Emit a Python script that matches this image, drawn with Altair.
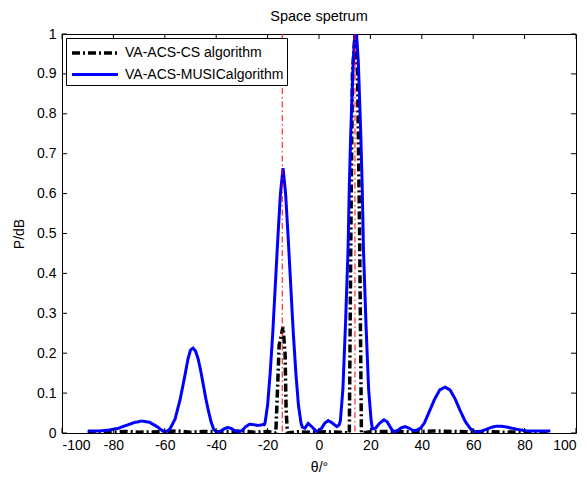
import altair as alt
import pandas as pd

# ---- data ----
music_theta = [-90, -86, -82, -78, -75, -72, -69, -66, -63, -61, -59.5, -58, -56, -54, -52, -51, -50, -49,
               -48, -47, -46, -45, -44, -43, -42, -41, -40, -38.5, -37, -35.5, -34, -32.5, -31, -30, -28.5,
               -27, -25.5, -24, -22.5, -21.5,
               -21.5, -21, -20, -19, -18, -17, -16, -15, -14, -13, -12, -11, -10, -9, -8, -7, -6.5,
               -5.5, -4.2, -2.5, -0.9, 1, 2.3, 3.6, 5, 6.9,
               7.8, 8.3, 9.3, 10.3, 11.3, 11.8, 12.3, 13.3, 14.3, 15.3, 16.3, 16.8, 17.3, 18.3, 19.3, 20.3, 20.8,
               22, 23.5, 25.3, 26.5, 28, 29, 30.5,
               32, 33.5, 35, 36.7, 38, 39.5, 41, 43, 45, 47, 49, 51, 53, 55, 57, 59, 61, 63, 65, 67, 69,
               71, 73, 75, 78, 81, 85, 90]
music_p = [0.005, 0.005, 0.007, 0.012, 0.019, 0.026, 0.030, 0.027, 0.016, 0.006, 0.003, 0.010, 0.035, 0.085,
           0.150, 0.185, 0.208, 0.213, 0.205, 0.185, 0.155, 0.120, 0.085, 0.055, 0.028, 0.010, 0.002, 0.004,
           0.010, 0.014, 0.011, 0.005, 0.003, 0.006, 0.016, 0.022, 0.021, 0.019, 0.020,
           0.022,
           0.018, 0.025, 0.070, 0.150, 0.250, 0.370, 0.490, 0.600, 0.664, 0.600, 0.490, 0.370, 0.250, 0.150,
           0.070, 0.025, 0.015,
           0.012, 0.024, 0.014, 0.003, 0.012, 0.025, 0.031, 0.026, 0.016,
           0.020, 0.030, 0.110, 0.270, 0.460, 0.620, 0.740, 0.930, 1.030, 0.930, 0.740, 0.620, 0.460, 0.270,
           0.110, 0.030, 0.010,
           0.012, 0.024, 0.033, 0.028, 0.012, 0.003, 0.006, 0.013, 0.016, 0.012, 0.006, 0.007, 0.012, 0.025,
           0.055, 0.085, 0.108, 0.115, 0.108, 0.085, 0.055, 0.028, 0.010, 0.002, 0.004, 0.009, 0.014, 0.017,
           0.017, 0.015, 0.012, 0.008, 0.005, 0.005, 0.005]

cs_theta = [-90, -80, -75, -70, -62, -55, -50, -45, -38, -30, -25, -20, -16.8, -16.2, -15.5, -14, -13.2,
            -12.8, -12.3, -8, -3, 3, 8, 11.8, 12.4, 13, 14, 15, 15.8, 16.5, 20, 28, 35, 45, 52, 58, 65, 72,
            80, 90]
cs_p = [0.0, 0.002, 0.004, 0.002, 0.003, 0.005, 0.002, 0.004, 0.003, 0.005, 0.002, 0.004, 0.0, 0.10, 0.22,
        0.266, 0.20, 0.06, 0.0, 0.003, 0.002, 0.003, 0.002, 0.0, 0.5, 0.9, 1.0, 0.9, 0.5, 0.0, 0.003, 0.004,
        0.003, 0.005, 0.004, 0.003, 0.004, 0.002, 0.003, 0.0]

doa = [-14.3, 14]
x_ticks = [-100, -80, -60, -40, -20, 0, 20, 40, 60, 80, 100]
y_ticks = [0, 0.1, 0.2, 0.3, 0.4, 0.5, 0.6, 0.7, 0.8, 0.9, 1]
series = ["VA-ACS-CS algorithm", "VA-ACS-MUSICalgorithm"]

W, H = 514, 399
FONT = "Liberation Sans"

df = pd.concat([
    pd.DataFrame({"theta": cs_theta, "p": cs_p, "s": series[0]}),
    pd.DataFrame({"theta": music_theta, "p": music_p, "s": series[1]}),
], ignore_index=True)

xs = alt.Scale(domain=[-100, 100], nice=False, zero=False)
ys = alt.Scale(domain=[0, 1], nice=False, zero=False)
x_axis = alt.Axis(values=x_ticks, title="θ/°", labelExpr="'' + datum.value", labelOverlap=False)
y_axis = alt.Axis(values=y_ticks, title="P/dB", labelExpr="'' + datum.value", labelOverlap=False)

legend_props = dict(
    title=None, orient="none", legendX=4, legendY=4,
    strokeColor="black", fillColor="white", padding=3,
    labelFont=FONT, labelFontSize=14, labelColor="black",
    symbolType="M-2.3,0H2.3", symbolSize=400, symbolStrokeWidth=2,
    symbolOffset=14, labelOffset=18, rowPadding=3, labelLimit=300,
)

lines = alt.Chart(df).mark_line(clip=True).encode(
    x=alt.X("theta:Q", scale=xs, axis=x_axis),
    y=alt.Y("p:Q", scale=ys, axis=y_axis),
    color=alt.Color("s:N", scale=alt.Scale(domain=series, range=["#000000", "#0000ff"]),
                    legend=alt.Legend(**legend_props)),
    strokeDash=alt.StrokeDash("s:N", scale=alt.Scale(domain=series, range=[[8, 3, 2, 3], [1, 0]]),
                              legend=alt.Legend(**legend_props)),
    strokeWidth=alt.StrokeWidth("s:N", scale=alt.Scale(domain=series, range=[3.5, 3]), legend=None),
)

red = alt.Chart(pd.DataFrame({"theta": doa})).mark_rule(
    color="#ff0000", strokeWidth=1, strokeDash=[6, 3, 1.5, 3]
).encode(
    x=alt.X("theta:Q", scale=xs, axis=x_axis),
    y=alt.value(0), y2=alt.value(H),
)

tx = pd.DataFrame({"theta": x_ticks})
ty = pd.DataFrame({"p": y_ticks})
tick_x_bottom = alt.Chart(tx).mark_rule(color="black", strokeWidth=1).encode(
    x=alt.X("theta:Q", scale=xs, axis=x_axis), y=alt.value(H), y2=alt.value(H - 5))
tick_x_top = alt.Chart(tx).mark_rule(color="black", strokeWidth=1).encode(
    x=alt.X("theta:Q", scale=xs, axis=x_axis), y=alt.value(0), y2=alt.value(5))
tick_y_left = alt.Chart(ty).mark_rule(color="black", strokeWidth=1).encode(
    y=alt.Y("p:Q", scale=ys, axis=y_axis), x=alt.value(0), x2=alt.value(5))
tick_y_right = alt.Chart(ty).mark_rule(color="black", strokeWidth=1).encode(
    y=alt.Y("p:Q", scale=ys, axis=y_axis), x=alt.value(W), x2=alt.value(W - 5))

chart = alt.layer(
    lines, red, tick_x_bottom, tick_x_top, tick_y_left, tick_y_right
).properties(
    width=W, height=H,
    title=alt.TitleParams("Space spetrum", frame="group", offset=3),
    autosize=alt.AutoSizeParams(type="none"),
    padding={"left": 54, "top": 26, "right": 3, "bottom": 40},
    background="white",
).configure_view(
    stroke="black", strokeWidth=1
).configure_axis(
    domain=False, ticks=False, tickSize=0, grid=False,
    labelFont=FONT, labelFontSize=14, labelColor="black",
    titleFont=FONT, titleFontSize=14, titleFontWeight="normal", titleColor="black",
).configure_axisX(
    labelPadding=5, titlePadding=8
).configure_axisY(
    labelPadding=6, titlePadding=10
).configure_title(
    font=FONT, fontSize=14.5, fontWeight="normal", color="black"
)

chart.save("out.html", embed_options={"renderer": "svg", "actions": False})
